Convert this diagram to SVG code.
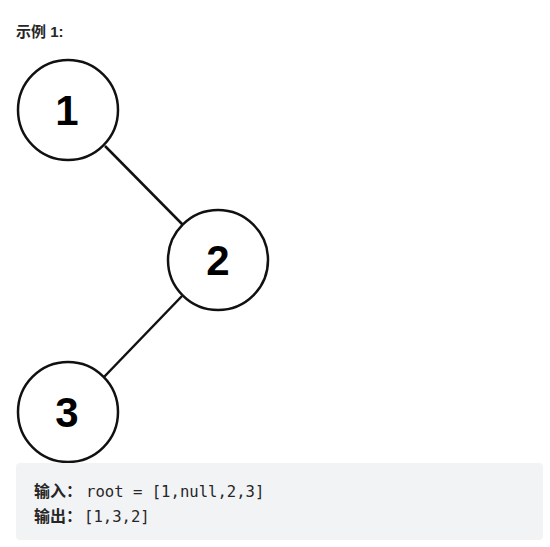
<svg xmlns="http://www.w3.org/2000/svg" width="550" height="547" viewBox="0 0 550 547">
<style>
.node circle{fill:#fff;stroke:#111;stroke-width:2.5}
.node text{font-family:"Liberation Sans",Arial,sans-serif;font-weight:bold;font-size:42px;fill:#000;text-anchor:middle}
.edge{stroke:#111;stroke-width:2.5;fill:none}
.title{font-family:"Liberation Sans","Noto Sans CJK SC",sans-serif;font-weight:bold;font-size:15px;fill:#262626}
.lbl{font-family:"Noto Sans CJK SC",sans-serif;font-weight:bold;font-size:16px;fill:#262626}
.code{font-family:"DejaVu Sans Mono","Liberation Mono",monospace;font-size:15.6px;fill:#262626}
</style>
<rect width="550" height="547" fill="#fff"/>
<text class="title" x="16" y="37">示例 1:</text>
<g id="connectors">
<line class="edge" x1="105" y1="146" x2="183" y2="225"/>
<line class="edge" x1="182" y1="296" x2="104" y2="377"/>
</g>
<g id="node1" class="node"><circle cx="68" cy="110" r="50"/><text x="67" y="125">1</text></g>
<g id="node2" class="node"><circle cx="218" cy="260" r="50"/><text x="218" y="275">2</text></g>
<g id="node3" class="node"><circle cx="68" cy="412" r="50"/><text x="67" y="427">3</text></g>
<g id="output">
<rect x="16" y="463" width="527" height="77" rx="4" fill="#f2f3f5"/>
<text x="34" y="497"><tspan class="lbl">输入：</tspan><tspan class="code" x="86">root = [1,null,2,3]</tspan></text>
<text x="34" y="522"><tspan class="lbl">输出：</tspan><tspan class="code" x="84">[1,3,2]</tspan></text>
</g>
</svg>
